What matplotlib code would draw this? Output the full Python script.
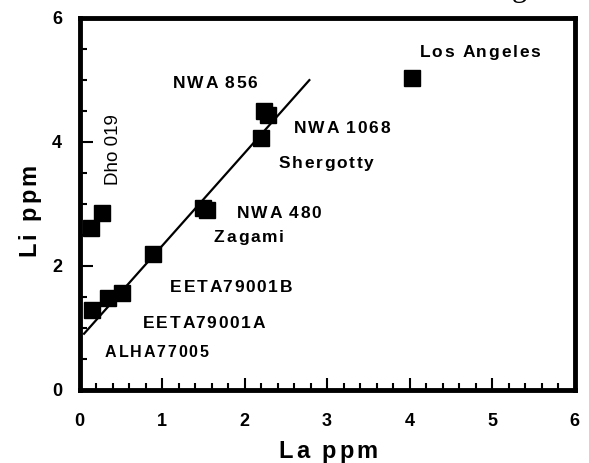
import matplotlib as mpl
mpl.use('Agg')
import matplotlib.pyplot as plt
from matplotlib.font_manager import FontProperties
from matplotlib.ticker import MultipleLocator

DPI = 100

# La / Li (ppm) for the martian meteorites
la_ppm = [4.03, 2.24, 2.29, 2.20, 1.50, 1.54, 0.89, 0.52, 0.35, 0.15, 0.14, 0.27]
li_ppm = [5.03, 4.50, 4.43, 4.05, 2.93, 2.89, 2.18, 1.56, 1.48, 1.28, 2.60, 2.85]

# regression line end points
fit_la = [0.055, 2.786]
fit_li = [0.90, 4.99]

names = ['Los Angeles', 'NWA 856', 'NWA 1068', 'Shergotty', 'NWA 480',
         'Zagami', 'EETA79001B', 'EETA79001A', 'ALHA77005']
name_x = [4.12, 1.13, 2.60, 2.41, 1.91, 1.63, 1.10, 0.77, 0.31]
name_y = [5.37, 4.855, 4.145, 3.58, 2.774, 2.387, 1.58, 1.0, 0.532]
name_size = [12.5, 12.5, 12.5, 12.5, 12.5, 12.5, 12.5, 12.5, 11.5]

xticks = [0, 1, 2, 3, 4, 5, 6]
yticks = [0, 2, 4, 6]

fig = plt.figure(figsize=(5.89, 4.63), dpi=DPI)
ax = fig.add_axes([0.135, 0.1587, 0.8404, 0.8035])
renderer = fig.canvas.get_renderer()


def text_width(s, fp):
    w, h, d = renderer.get_text_width_height_descent(s, fp, ismath=False)
    return w


def tracked_text(x, y, s, size, track, coords='data', rotation=0, ha='left'):
    # letter-spaced bold text, one glyph at a time
    fp = FontProperties(family='Liberation Sans', weight='bold', size=size)
    bar = text_width('I', fp)
    adv = [0] + [text_width(s[:i] + 'I', fp) - bar for i in range(1, len(s))]
    total = text_width(s, fp) + track * (len(s) - 1)
    start = -total / 2 if ha == 'center' else 0
    for i, ch in enumerate(s):
        if ch == ' ':
            continue
        off = (start + adv[i] + i * track) * 72 / DPI
        xy_off = (0, off) if rotation == 90 else (off, 0)
        ax.annotate(ch, (x, y), xycoords=coords, xytext=xy_off,
                    textcoords='offset points', fontproperties=fp,
                    rotation=rotation, rotation_mode='anchor',
                    ha='left', va='baseline', annotation_clip=False)


ax.plot(fit_la, fit_li, color='k', lw=1.6, zorder=2)
ax.plot(la_ppm, li_ppm, 's', color='k', ms=12, zorder=3)

for nm, x, y, sz in zip(names, name_x, name_y, name_size):
    tracked_text(x, y, nm, sz, 1.8)

ax.text(0.406, 3.87, 'Dho 019', rotation=90, ha='center', va='center',
        family='Liberation Sans', fontsize=13.5)

ax.set_xlim(0, 6)
ax.set_ylim(0, 6)
ax.set_xticks(xticks)
ax.set_yticks(yticks)
ax.xaxis.set_minor_locator(MultipleLocator(0.2))
ax.yaxis.set_minor_locator(MultipleLocator(0.5))
ax.tick_params(which='both', direction='in', width=1.5, top=False, right=False)
ax.tick_params(which='major', length=9)
ax.tick_params(which='minor', length=5)
ax.tick_params(axis='x', pad=17)
ax.tick_params(axis='y', pad=12.5)
for lab in ax.get_xticklabels() + ax.get_yticklabels():
    lab.set_fontproperties(FontProperties(family='Liberation Sans', weight='bold', size=13))
for sp in ax.spines.values():
    sp.set_linewidth(3.5)

# axis titles (letter-spaced, placed in figure pixels)
tracked_text(328, 5, 'La ppm', 17, 3, coords='figure pixels', ha='center')
tracked_text(35, 253, 'Li ppm', 17, 3, coords='figure pixels', rotation=90, ha='center')

# tail of the caption above, cut off by the page edge
fig.text(512 / 589, 466.7 / 463, 'g', family='Liberation Serif', fontsize=22, va='baseline')

fig.savefig('out.png', dpi=DPI)
